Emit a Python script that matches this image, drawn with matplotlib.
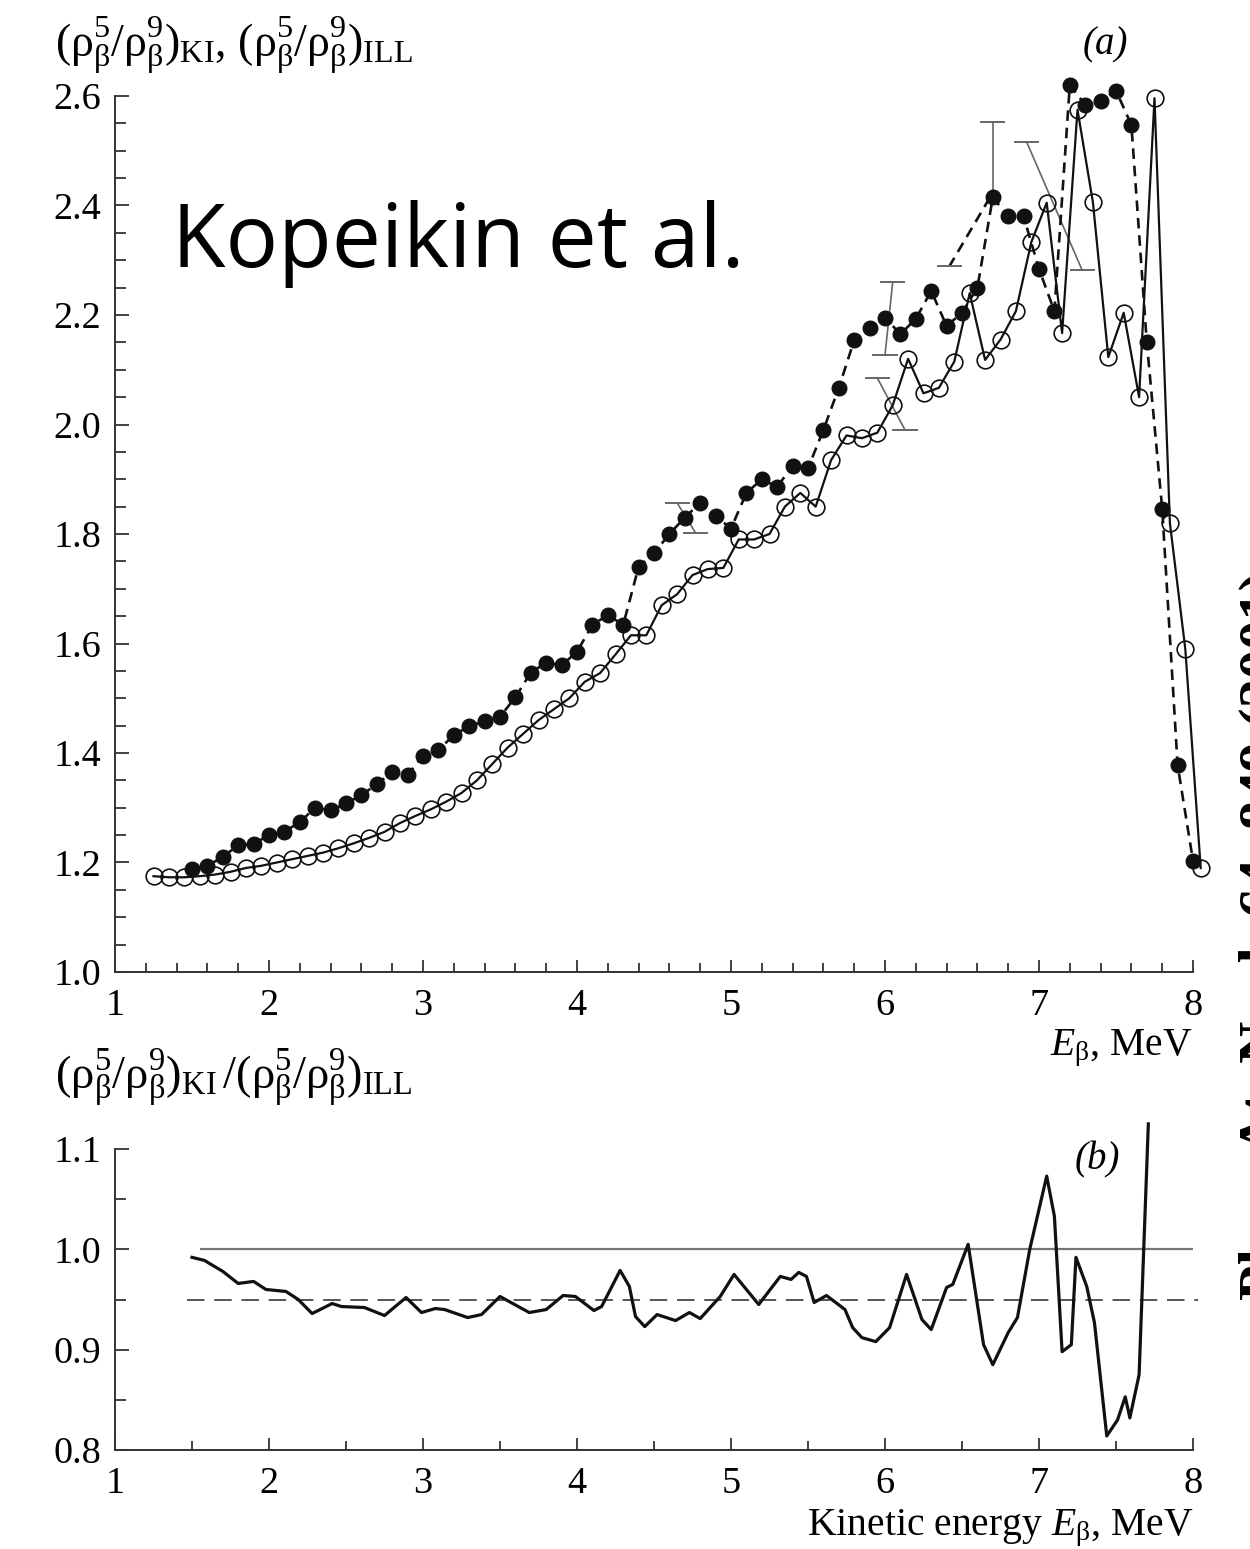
import numpy as np
import matplotlib
matplotlib.use('Agg')
import matplotlib.pyplot as plt
from matplotlib.ticker import MultipleLocator, FormatStrFormatter

plt.rcParams['font.family'] = ['Liberation Serif', 'DejaVu Serif']
plt.rcParams['mathtext.fontset'] = 'custom'
plt.rcParams['mathtext.rm'] = 'Liberation Serif'
plt.rcParams['mathtext.it'] = 'Liberation Serif:italic'
plt.rcParams['mathtext.bf'] = 'Liberation Serif:bold'

# ILL ratio rho5/rho9 (open circles, solid line)
e_ill = [1.25, 1.35, 1.45, 1.55, 1.65, 1.75, 1.85, 1.95, 2.05, 2.15,
         2.25, 2.35, 2.45, 2.55, 2.65, 2.75, 2.85, 2.95, 3.05, 3.15,
         3.25, 3.35, 3.45, 3.55, 3.65, 3.75, 3.85, 3.95, 4.05, 4.15,
         4.25, 4.35, 4.45, 4.55, 4.65, 4.75, 4.85, 4.95, 5.05, 5.15,
         5.25, 5.35, 5.45, 5.55, 5.65, 5.75, 5.85, 5.95, 6.05, 6.15,
         6.25, 6.35, 6.45, 6.55, 6.65, 6.75, 6.85, 6.95, 7.05, 7.15,
         7.25, 7.35, 7.45, 7.55, 7.65, 7.75, 7.85, 7.95, 8.05]
r_ill = [1.175, 1.173, 1.173, 1.175, 1.178, 1.183, 1.190, 1.194, 1.200, 1.206,
         1.212, 1.218, 1.226, 1.235, 1.245, 1.256, 1.272, 1.285, 1.297, 1.311,
         1.327, 1.350, 1.380, 1.410, 1.435, 1.460, 1.480, 1.500, 1.530, 1.546,
         1.580, 1.615, 1.615, 1.670, 1.690, 1.725, 1.736, 1.738, 1.790, 1.790,
         1.800, 1.850, 1.875, 1.850, 1.935, 1.980, 1.975, 1.985, 2.035, 2.120,
         2.057, 2.067, 2.115, 2.240, 2.118, 2.155, 2.207, 2.333, 2.405, 2.167,
         2.575, 2.406, 2.123, 2.204, 2.050, 2.596, 1.820, 1.590, 1.190]

# KI ratio rho5/rho9 (filled circles, dashed line)
e_ki = [1.5, 1.6, 1.7, 1.8, 1.9, 2.0, 2.1, 2.2, 2.3, 2.4,
        2.5, 2.6, 2.7, 2.8, 2.9, 3.0, 3.1, 3.2, 3.3, 3.4,
        3.5, 3.6, 3.7, 3.8, 3.9, 4.0, 4.1, 4.2, 4.3, 4.4,
        4.5, 4.6, 4.7, 4.8, 4.9, 5.0, 5.1, 5.2, 5.3, 5.4,
        5.5, 5.6, 5.7, 5.8, 5.9, 6.0, 6.1, 6.2, 6.3, 6.4,
        6.5, 6.6, 6.7, 6.8, 6.9, 7.0, 7.1, 7.2, 7.3, 7.4,
        7.5, 7.6, 7.7, 7.8, 7.9, 8.0]
r_ki = [1.188, 1.194, 1.210, 1.232, 1.234, 1.250, 1.256, 1.274, 1.300, 1.295,
        1.308, 1.323, 1.343, 1.365, 1.360, 1.395, 1.405, 1.433, 1.449, 1.458,
        1.466, 1.502, 1.547, 1.565, 1.560, 1.585, 1.634, 1.652, 1.634, 1.740,
        1.765, 1.800, 1.830, 1.857, 1.833, 1.810, 1.875, 1.900, 1.886, 1.925,
        1.920, 1.990, 2.067, 2.154, 2.176, 2.195, 2.165, 2.193, 2.244, 2.180,
        2.204, 2.250, 2.415, 2.380, 2.380, 2.284, 2.207, 2.620, 2.584, 2.590,
        2.610, 2.547, 2.150, 1.846, 1.378, 1.203]

# error bars, drawn from upper end to lower end (some are skewed)
err_x_top = [4.65, 6.05, 5.95, 6.70, 6.92, 6.68]
err_y_top = [1.857, 2.260, 2.085, 2.553, 2.516, 2.414]
err_x_bot = [4.77, 6.00, 6.13, 6.70, 7.28, 6.42]
err_y_bot = [1.802, 2.127, 1.990, 2.415, 2.282, 2.290]
err_cap_top = [True, True, True, True, True, False]
err_cap_bot = [True, True, True, False, True, True]
err_dashed = [False, False, False, False, False, True]

# KI / ILL ratio
e_rat = [1.50, 1.58, 1.70, 1.80, 1.90, 1.98, 2.11, 2.19, 2.28, 2.41,
         2.47, 2.62, 2.75, 2.89, 2.99, 3.08, 3.14, 3.29, 3.38, 3.50,
         3.69, 3.80, 3.91, 3.99, 4.11, 4.16, 4.28, 4.34, 4.38, 4.44,
         4.52, 4.64, 4.73, 4.80, 4.93, 5.02, 5.10, 5.18, 5.32, 5.39,
         5.44, 5.49, 5.54, 5.62, 5.74, 5.79, 5.85, 5.94, 6.03, 6.14,
         6.24, 6.30, 6.40, 6.44, 6.54, 6.64, 6.70, 6.80, 6.86, 6.94,
         7.05, 7.10, 7.15, 7.21, 7.24, 7.31, 7.36, 7.44, 7.51, 7.56,
         7.59, 7.65, 7.71]
r_rat = [0.992, 0.989, 0.978, 0.966, 0.968, 0.960, 0.958, 0.950, 0.936, 0.946,
         0.943, 0.942, 0.934, 0.952, 0.937, 0.941, 0.940, 0.932, 0.935, 0.953,
         0.937, 0.940, 0.954, 0.953, 0.939, 0.943, 0.979, 0.963, 0.933, 0.923,
         0.935, 0.929, 0.937, 0.931, 0.953, 0.975, 0.960, 0.945, 0.973, 0.970,
         0.977, 0.973, 0.947, 0.954, 0.940, 0.922, 0.912, 0.908, 0.922, 0.975,
         0.930, 0.920, 0.962, 0.965, 1.005, 0.905, 0.885, 0.917, 0.932, 1.000,
         1.073, 1.033, 0.898, 0.905, 0.992, 0.963, 0.927, 0.814, 0.830, 0.853,
         0.832, 0.875, 1.125]

ref_solid = 1.0
ref_dashed = 0.95

W, H = 1250, 1549
fig = plt.figure(figsize=(W / 100, H / 100), dpi=100)

def fx(px):
    return px / W

def fy(py):
    return 1 - py / H

axis_col = '#333333'
ax1 = fig.add_axes([fx(115), fy(972), fx(1193) - fx(115), fy(96) - fy(972)])
ax2 = fig.add_axes([fx(115), fy(1450), fx(1193) - fx(115), fy(1149) - fy(1450)])

for ax in (ax1, ax2):
    for s in ('top', 'right'):
        ax.spines[s].set_visible(False)
    for s in ('left', 'bottom'):
        ax.spines[s].set_linewidth(1.4)
        ax.spines[s].set_color(axis_col)
    ax.tick_params(which='both', direction='in', top=False, right=False,
                   color=axis_col, width=1.3, labelsize=27.5)
    ax.tick_params(axis='x', which='major', length=8.6, pad=12)
    ax.tick_params(axis='x', which='minor', length=6.2)
    ax.tick_params(axis='y', which='major', length=10, pad=10)
    ax.tick_params(axis='y', which='minor', length=8)
    ax.set_xlim(1, 8)

# (a) spectra ratios
ax1.set_ylim(1.0, 2.6)
ax1.xaxis.set_major_locator(MultipleLocator(1))
ax1.xaxis.set_minor_locator(MultipleLocator(0.2))
ax1.yaxis.set_major_locator(MultipleLocator(0.2))
ax1.yaxis.set_minor_locator(MultipleLocator(0.05))
ax1.yaxis.set_major_formatter(FormatStrFormatter('%.1f'))

ax1.plot(e_ill, r_ill, '-', color='#111111', lw=1.6, marker='o', ms=12,
         mfc='none', mec='#111111', mew=1.2, clip_on=False, zorder=3)
ax1.plot(e_ki, r_ki, color='#111111', lw=1.9, ls=(0, (4, 2.6)), marker='o',
         ms=10.5, mfc='#111111', mec='#111111', clip_on=False, zorder=4)

err_col = '#666666'
cap = 0.075
for xt, yt, xb, yb, ct, cb, ds in zip(err_x_top, err_y_top, err_x_bot, err_y_bot,
                                      err_cap_top, err_cap_bot, err_dashed):
    if ds:
        ax1.plot([xt, xb], [yt, yb], color='#111111', lw=1.9, ls=(0, (4, 2.6)), zorder=2)
    else:
        ax1.plot([xt, xb], [yt, yb], color=err_col, lw=1.2, zorder=2)
    if ct:
        ax1.plot([xt - cap, xt + cap], [yt, yt], color=err_col, lw=1.4, zorder=2)
    if cb:
        ax1.plot([xb - cap, xb + cap], [yb, yb], color=err_col, lw=1.4, zorder=2)

# (b) ratio of the two
ax2.set_ylim(0.8, 1.1)
ax2.xaxis.set_major_locator(MultipleLocator(1))
ax2.xaxis.set_minor_locator(MultipleLocator(0.5))
ax2.yaxis.set_major_locator(MultipleLocator(0.1))
ax2.yaxis.set_minor_locator(MultipleLocator(0.05))
ax2.yaxis.set_major_formatter(FormatStrFormatter('%.1f'))
ax2.hlines(ref_solid, 1.55, 8.0, color='#777777', lw=1.6)
ax2.hlines(ref_dashed, 1.47, 8.03, color='#555555', lw=1.4, linestyles=(0, (9, 5)),
           clip_on=False)
ax2.plot(e_rat, r_rat, color='#111111', lw=2.3, clip_on=False)

rho = r'(\mathrm{ρ}_{\mathrm{β}}^{5}/\mathrm{ρ}_{\mathrm{β}}^{9})'
fig.text(fx(55), fy(45), r'$%s_{\mathrm{KI}}$, $%s_{\mathrm{ILL}}$' % (rho, rho),
         fontsize=33, ha='left', va='center')
fig.text(fx(1105), fy(45), '(a)', fontsize=28, style='italic', ha='center', va='center')
fig.text(fx(1193), fy(1055), r'$E_{\mathrm{β}}$, MeV', fontsize=28.5, ha='right',
         va='baseline')
fig.text(fx(55), fy(1078), r'$%s_{\mathrm{KI}}\,/%s_{\mathrm{ILL}}$' % (rho, rho),
         fontsize=33.5, ha='left', va='center')
fig.text(fx(1097), fy(1160), '(b)', fontsize=28, style='italic', ha='center', va='center')
fig.text(fx(1193), fy(1535), r'Kinetic energy $E_{\mathrm{β}}$, MeV', fontsize=28.5,
         ha='right', va='baseline')

fig.text(fx(172), fy(267), 'Kopeikin et al.', fontsize=63, family='Open Sans',
         ha='left', va='baseline')

# journal line running off the right edge
fig.text(fx(1239), fy(1300), 'Phys. At. Nucl. 64, 849 (2001)', fontsize=42,
         fontweight='bold', rotation=90, ha='left', va='bottom')

fig.savefig('out.png', dpi=100)
